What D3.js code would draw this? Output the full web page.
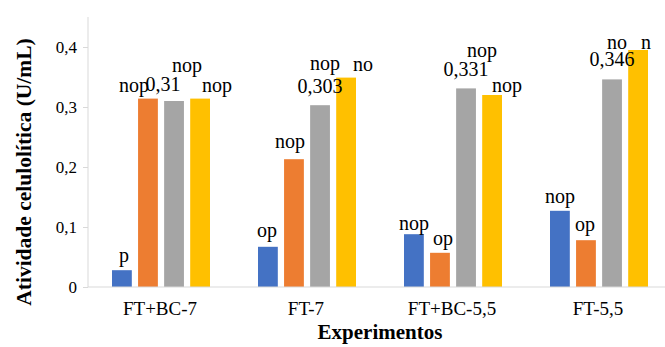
<!DOCTYPE html>
<html>
<head>
<meta charset="utf-8">
<script src="https://cdnjs.cloudflare.com/ajax/libs/d3/7.8.5/d3.min.js"></script>
<style>
  body { margin: 0; background: #fff; }
  svg text { font-family: "Liberation Serif", "Times New Roman", serif !important; }
</style>
</head>
<body>
<svg width="665" height="347"></svg>
<script>
// data
var categories = ['FT+BC-7', 'FT-7', 'FT+BC-5,5', 'FT-5,5'];
var seriesKeys = ['s1', 's2', 's3', 's4'];
var blueValues   = [0.028, 0.067, 0.088, 0.127];
var orangeValues = [0.314, 0.213, 0.057, 0.078];
var grayValues   = [0.310, 0.303, 0.331, 0.346];
var yellowValues = [0.314, 0.349, 0.320, 0.395];
var blueLetters   = ['p', 'op', 'nop', 'nop'];
var orangeLetters = ['nop', 'nop', 'op', 'op'];
var grayLetters   = ['nop', 'nop', 'nop', 'no'];
var yellowLetters = ['nop', 'no', 'nop', 'n'];
var grayValueLabels = ['0,31', '0,303', '0,331', '0,346'];
var yTicks = [0, 0.1, 0.2, 0.3, 0.4];

var colors = ['#4472C4', '#ED7D31', '#A5A5A5', '#FFC000'];
var allValues = [blueValues, orangeValues, grayValues, yellowValues];
var allLetters = [blueLetters, orangeLetters, grayLetters, yellowLetters];

// hand placement of the labels, offsets from bar centre / bar top [dx, dy]
var letterOffsets = [
  [[2, -8], [-14, -7], [13, -29], [17, -7]],
  [[-1, -10], [-4, -11], [5, -35], [17, -7]],
  [[0, -4], [3, -8], [16, -31], [15, -3]],
  [[0, -8], [-1, -9], [5, -30], [8, -1]]
];
var valueOffsets = [[-11, -10], [0, -12], [0, -12], [0, -13]];

var svg = d3.select('svg');
var margin = {left: 88, top: 17, bottom: 60};
var plotRight = 672;
var baseY = 287;

var x0 = d3.scaleBand()
           .domain(categories)
           .range([margin.left, plotRight])
           .padding(0);

var x1 = d3.scaleBand()
           .domain(seriesKeys)
           .range([24, 122])
           .paddingInner(0.24)
           .paddingOuter(0);

var y = d3.scaleLinear()
          .domain([0, 0.45])
          .range([baseY, margin.top]);

// y axis
var yAxis = svg.append('g')
  .attr('transform', 'translate(' + margin.left + ',0)')
  .call(d3.axisLeft(y).tickValues(yTicks).tickSize(5).tickPadding(6)
          .tickFormat(d => d === 0 ? '0' : d3.format('.1f')(d).replace('.', ',')));
yAxis.attr('font-family', null).attr('font-size', 17);
yAxis.select('.domain').attr('stroke', '#d9d9d9').attr('d', 'M0,' + margin.top + 'V' + baseY);
yAxis.selectAll('.tick line').attr('stroke', '#d9d9d9');
yAxis.selectAll('.tick text').attr('fill', '#000');

// bars
var rows = categories.map((c, i) => ({cat: c, i: i}));
var groups = svg.selectAll('g.grp')
  .data(rows)
  .enter()
  .append('g')
    .attr('class', 'grp')
    .attr('transform', d => 'translate(' + x0(d.cat) + ',0)');

groups.selectAll('rect')
  .data(d => seriesKeys.map((k, s) => ({key: k, s: s, v: allValues[s][d.i]})))
  .enter()
  .append('rect')
    .attr('x', d => x1(d.key))
    .attr('width', x1.bandwidth())
    .attr('y', d => y(d.v))
    .attr('height', d => baseY - y(d.v))
    .attr('fill', d => colors[d.s]);

// baseline
svg.append('line')
  .attr('x1', margin.left).attr('x2', 665)
  .attr('y1', baseY).attr('y2', baseY)
  .attr('stroke', '#d9d9d9')
  .attr('stroke-width', 1);

// letter labels
groups.selectAll('text.letter')
  .data(d => seriesKeys.map((k, s) => ({key: k, s: s, v: allValues[s][d.i], t: allLetters[s][d.i], off: letterOffsets[d.i][s]})))
  .enter()
  .append('text')
    .attr('class', 'letter')
    .attr('x', d => x1(d.key) + x1.bandwidth() / 2 + d.off[0])
    .attr('y', d => y(d.v) + d.off[1])
    .attr('text-anchor', 'middle')
    .attr('font-size', 20)
    .text(d => d.t);

// value labels on gray bars
groups.append('text')
  .attr('x', d => x1('s3') + x1.bandwidth() / 2 + valueOffsets[d.i][0])
  .attr('y', d => y(grayValues[d.i]) + valueOffsets[d.i][1])
  .attr('text-anchor', 'middle')
  .attr('font-size', 20)
  .text(d => grayValueLabels[d.i]);

// category labels
groups.append('text')
  .attr('x', x0.bandwidth() / 2 - 1)
  .attr('y', 315)
  .attr('text-anchor', 'middle')
  .attr('font-size', 19)
  .text(d => d.cat);

// axis titles
svg.append('text')
  .attr('x', 380)
  .attr('y', 339)
  .attr('text-anchor', 'middle')
  .attr('font-size', 21)
  .attr('font-weight', 'bold')
  .text('Experimentos');

svg.append('text')
  .attr('transform', 'translate(31,172) rotate(-90)')
  .attr('text-anchor', 'middle')
  .attr('font-size', 21.5)
  .attr('font-weight', 'bold')
  .text('Atividade celulolítica (U/mL)');
</script>
</body>
</html>
